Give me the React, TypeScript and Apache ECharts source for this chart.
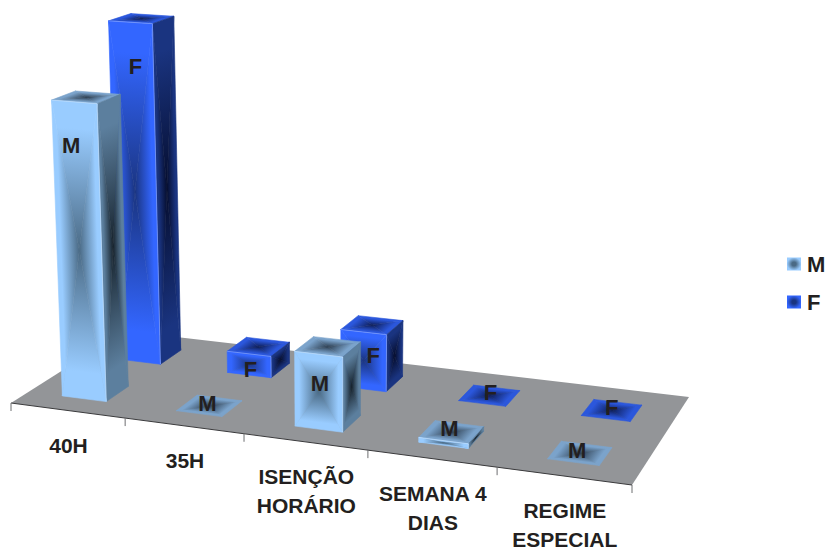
import React, { useEffect, useRef } from "react";
import * as echarts from "echarts";

const categories = ["40H", "35H", "ISENÇÃO\nHORÁRIO", "SEMANA 4\nDIAS", "REGIME\nESPECIAL"];
const valuesM = [83.8, 0, 21, 1.3, 0];
const valuesF = [100, 6.4, 16.8, 0, 0];

// Floor corners on screen: front-left, front-right, back-right, back-left.
const FLOOR: number[][] = [[11, 403], [632, 485], [689, 397], [124.6, 331]];
const VANISH = [340, 8000];
const GRID = { left: 0, top: 0, width: 500, height: 343 };
const FONT = "'Liberation Sans', Arial, sans-serif";
const INK = "#231f20";
const BAR_SPAN = [0.3, 0.69];
const ROW_M = [0.145, 0.34];
const ROW_F = [0.64, 0.84];

const PALETTE_M = {
  front: ["#99ccff", "#4a6a85"],
  side: ["#5c7f9e", "#16222c"],
  top: ["#7ba3cb", "#2e4053"],
};
const PALETTE_F = {
  front: ["#3366ff", "#1a3480"],
  side: ["#1a3480", "#050d2e"],
  top: ["#2b57dc", "#0e1e58"],
};

// Pixel shift of each in-chart letter from the centre of its bar's top face.
const SHIFT_M = [[-15, 48], [-2, -2], [-8, 37], [-2, -4], [-3, -3]];
const SHIFT_F = [[-6, 48], [-8, 23], [1, 30], [1, -3], [0, -3]];

function solveFloor(q: number[][]) {
  const [[x0, y0], [x1, y1], [x2, y2], [x3, y3]] = q;
  const dx1 = x1 - x2, dx2 = x3 - x2, sx = x0 - x1 + x2 - x3;
  const dy1 = y1 - y2, dy2 = y3 - y2, sy = y0 - y1 + y2 - y3;
  const det = dx1 * dy2 - dx2 * dy1;
  const g = (sx * dy2 - dx2 * sy) / det;
  const h = (dx1 * sy - sx * dy1) / det;
  return {
    a: x1 - x0 + g * x1, b: x3 - x0 + h * x3, c: x0,
    d: y1 - y0 + g * y1, e: y3 - y0 + h * y3, f: y0, g, h,
  };
}
const H = solveFloor(FLOOR);
const RISE = -1 / 7600;

// Projects category position u (0..5), depth v (0..1) and height z onto the screen.
function project(u: number, v: number, z = 0): number[] {
  const s = u / categories.length;
  const w = H.g * s + H.h * v + 1;
  const x = (H.a * s + H.b * v + H.c) / w;
  const y = (H.d * s + H.e * v + H.f) / w;
  const t = (RISE * z) / (w + RISE * z);
  return [x + t * (VANISH[0] - x), y + t * (VANISH[1] - y)];
}

// A rectangular path gradient: four triangles, each shading from its edge to the face centre.
function shadedFace(corners: number[][], colors: string[]) {
  const cx = corners.reduce((a, p) => a + p[0], 0) / 4;
  const cy = corners.reduce((a, p) => a + p[1], 0) / 4;
  return corners.map((p, i) => {
    const q = corners[(i + 1) % 4];
    const ex = q[0] - p[0], ey = q[1] - p[1];
    const k = ((cx - p[0]) * ex + (cy - p[1]) * ey) / (ex * ex + ey * ey || 1);
    const fx = p[0] + k * ex, fy = p[1] + k * ey;
    const fill = new echarts.graphic.LinearGradient(
      fx, fy, cx, cy,
      [
        { offset: 0, color: colors[0] },
        { offset: 0.18, color: colors[0] },
        { offset: 1, color: colors[1] },
      ],
      true
    );
    return {
      type: "polygon",
      silent: true,
      shape: { points: [p, q, [cx, cy]] },
      style: { fill, stroke: fill, lineWidth: 0.6 },
    };
  });
}

function barRenderer(row: number[], palette: typeof PALETTE_M, shift: number[][], letter: string) {
  return (params: any, api: any) => {
    const i = api.value(0);
    const base = api.coord([i, 0]);
    const tip = api.coord([i, api.value(1)]);
    const band = api.size([1, 0])[0];
    const z = base[1] - tip[1];
    const left = (base[0] - GRID.left) / band - 0.5;
    const u0 = left + BAR_SPAN[0], u1 = left + BAR_SPAN[1];
    const [v0, v1] = row;
    const children: any[] = [];
    const top = [project(u0, v0, z), project(u1, v0, z), project(u1, v1, z), project(u0, v1, z)];
    children.push(...shadedFace(top, palette.top));
    if (z > 0.5) {
      children.push(...shadedFace([project(u1, v0, z), project(u1, v1, z), project(u1, v1), project(u1, v0)], palette.side));
      children.push(...shadedFace([project(u0, v0, z), project(u1, v0, z), project(u1, v0), project(u0, v0)], palette.front));
      // Soft highlight along the edges where the faces meet.
      children.push({
        type: "polyline",
        silent: true,
        shape: { points: [project(u0, v0, z), project(u1, v0, z), project(u1, v0)] },
        style: { stroke: "rgba(255,255,255,0.35)", lineWidth: 0.8, fill: "none" },
      });
    }
    const cx = top.reduce((a, p) => a + p[0], 0) / 4;
    const cy = top.reduce((a, p) => a + p[1], 0) / 4;
    children.push({
      type: "text",
      silent: true,
      style: {
        text: letter,
        x: cx + shift[i][0],
        y: cy + shift[i][1],
        align: "center",
        verticalAlign: "middle",
        fontFamily: FONT,
        fontWeight: "bold",
        fontSize: 22,
        fill: INK,
      },
    });
    return { type: "group", children };
  };
}

function tick(u: number) {
  const p = project(u, 0);
  return {
    type: "line",
    silent: true,
    shape: { x1: p[0], y1: p[1], x2: p[0], y2: p[1] + 8 },
    style: { stroke: "#6d6e71", lineWidth: 1 },
  };
}

// Floor, front axis line, tick marks and the category names beneath them.
function floorRenderer(params: any, api: any) {
  const i = api.value(0);
  const base = api.coord([i, 0]);
  const band = api.size([1, 0])[0];
  const u = (base[0] - GRID.left) / band - 0.5;
  const n = categories.length;
  const children: any[] = [];
  if (i === 0) {
    children.push({
      type: "polygon",
      silent: true,
      shape: { points: [project(0, 0), project(n, 0), project(n, 1), project(0, 1)] },
      style: { fill: "#939598" },
    });
    children.push({
      type: "line",
      silent: true,
      shape: { x1: project(0, 0)[0], y1: project(0, 0)[1], x2: project(n, 0)[0], y2: project(n, 0)[1] },
      style: { stroke: "#3a3a3c", lineWidth: 1 },
    });
    children.push(tick(0));
  }
  children.push(tick(u + 1));
  const mid = project(u + 0.5, 0);
  children.push({
    type: "text",
    silent: true,
    style: {
      text: categories[i],
      x: mid[0] + 1,
      y: mid[1] + 20.5,
      align: "center",
      verticalAlign: "top",
      lineHeight: 29,
      fontFamily: FONT,
      fontWeight: "bold",
      fontSize: 21,
      fill: INK,
    },
  });
  return { type: "group", children };
}

function swatch(colors: string[]) {
  return new echarts.graphic.RadialGradient(0.5, 0.5, 0.5, [
    { offset: 0, color: colors[1] },
    { offset: 0.3, color: colors[1] },
    { offset: 1, color: colors[0] },
  ]);
}

export default function App() {
  const ref = useRef<HTMLDivElement>(null);
  useEffect(() => {
    if (!ref.current) return;
    const chart = echarts.init(ref.current, undefined, { renderer: "svg" });
    chart.setOption({
      animation: false,
      backgroundColor: "#ffffff",
      grid: { ...GRID, containLabel: false },
      xAxis: { type: "category", data: categories, show: false },
      yAxis: { type: "value", min: 0, max: 100, show: false },
      legend: {
        left: 782,
        top: 248,
        orient: "vertical",
        itemWidth: 14,
        itemHeight: 13,
        itemGap: 16,
        selectedMode: false,
        textStyle: { fontFamily: FONT, fontWeight: "bold", fontSize: 22, color: INK, padding: [0, 0, 0, 1] },
        data: [
          { name: "M", icon: "rect", itemStyle: { color: swatch(PALETTE_M.front) } },
          { name: "F", icon: "rect", itemStyle: { color: swatch(PALETTE_F.front) } },
        ],
      },
      series: [
        {
          type: "custom",
          name: "chão",
          silent: true,
          renderItem: floorRenderer,
          encode: { x: 0, y: 1 },
          data: categories.map((c) => [c, 0]),
        },
        {
          type: "custom",
          name: "F",
          silent: true,
          renderItem: barRenderer(ROW_F, PALETTE_F, SHIFT_F, "F"),
          encode: { x: 0, y: 1 },
          data: categories.map((c, i) => [c, valuesF[i]]),
        },
        {
          type: "custom",
          name: "M",
          silent: true,
          renderItem: barRenderer(ROW_M, PALETTE_M, SHIFT_M, "M"),
          encode: { x: 0, y: 1 },
          data: categories.map((c, i) => [c, valuesM[i]]),
        },
      ],
    });
    return () => chart.dispose();
  }, []);
  return <div ref={ref} style={{ position: "absolute", left: 0, top: 0, width: 828, height: 550 }} />;
}
